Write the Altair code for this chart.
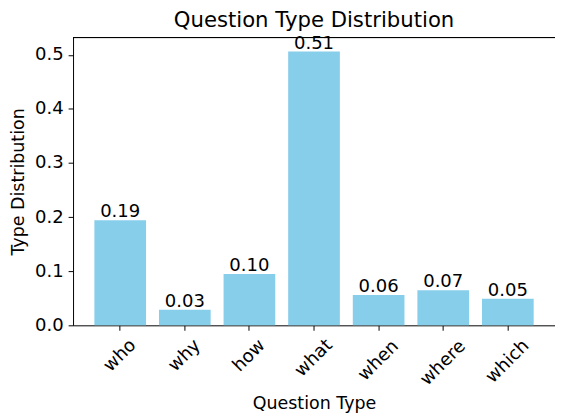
import altair as alt
import pandas as pd

categories = ["who", "why", "how", "what", "when", "where", "which"]
values = [0.194, 0.029, 0.095, 0.506, 0.056, 0.065, 0.049]
y_ticks = [0.0, 0.1, 0.2, 0.3, 0.4, 0.5]

df = pd.DataFrame({"type": categories, "value": values})

W, H = 489, 292
FONT = "DejaVu Sans"
TICK_FS = 18.3
LABEL_FS = 18.3
AXTITLE_FS = 17.7
TITLE_FS = 21.5

label_pad = {
    "condition": [
        {"test": "datum.value === 'what'", "value": 28},
        {"test": "datum.value === 'when'", "value": 30.5},
        {"test": "datum.value === 'where'", "value": 33},
        {"test": "datum.value === 'which'", "value": 31.5},
    ],
    "value": 25.5,
}

x_enc = alt.X(
    "type:N",
    sort=categories,
    scale=alt.Scale(paddingInner=0.2, paddingOuter=0.33),
    axis=alt.Axis(
        title="Question Type",
        labelAngle=-45,
        labelAlign="center",
        labelBaseline="middle",
        labelPadding=label_pad,
        labelFontSize=TICK_FS,
        labelFont=FONT,
        labelColor="black",
        tickSize=5,
        tickColor="black",
        domainColor="black",
        titleFont=FONT,
        titleFontSize=AXTITLE_FS,
        titleFontWeight="normal",
        titleColor="black",
        titleY=84,
        titleBaseline="alphabetic",
    ),
)

y_enc = alt.Y(
    "value:Q",
    scale=alt.Scale(domain=[0, 0.532], nice=False, zero=True),
    axis=alt.Axis(
        title="Type Distribution",
        values=y_ticks,
        format=".1f",
        grid=False,
        labelFontSize=TICK_FS,
        labelFont=FONT,
        labelColor="black",
        labelPadding=5,
        tickSize=5,
        tickColor="black",
        domainColor="black",
        titleFont=FONT,
        titleFontSize=AXTITLE_FS,
        titleFontWeight="normal",
        titleColor="black",
        titleAngle=270,
        titleX=-50.5,
        titleY=H / 2,
        titleAlign="center",
        titleBaseline="alphabetic",
    ),
)

base = alt.Chart(df)

bars = base.mark_bar(color="#87CEEB").encode(x=x_enc, y=y_enc)

labels = base.mark_text(
    dy=-3, baseline="alphabetic", align="center", fontSize=LABEL_FS, font=FONT, color="black"
).encode(
    x=alt.X("type:N", sort=categories),
    y=alt.Y("value:Q"),
    text=alt.Text("value:Q", format=".2f"),
)

top_rule = alt.Chart(df).mark_rule(color="black", strokeWidth=1).encode(
    x=alt.value(0), x2=alt.value(W), y=alt.value(0)
)

chart = (
    alt.layer(bars, labels, top_rule)
    .properties(
        width=W,
        height=H,
        title=alt.TitleParams(
            "Question Type Distribution",
            fontSize=TITLE_FS,
            font=FONT,
            fontWeight="normal",
            color="black",
            anchor="middle",
            baseline="alphabetic",
            offset=9.5,
            dy=24,
            frame="group",
        ),
        autosize=alt.AutoSizeParams(type="none"),
        padding={"left": 66, "top": 27, "right": 0, "bottom": 86},
    )
    .configure_view(stroke=None)
)

chart.save("out.html", embed_options={"renderer": "svg", "actions": False})
